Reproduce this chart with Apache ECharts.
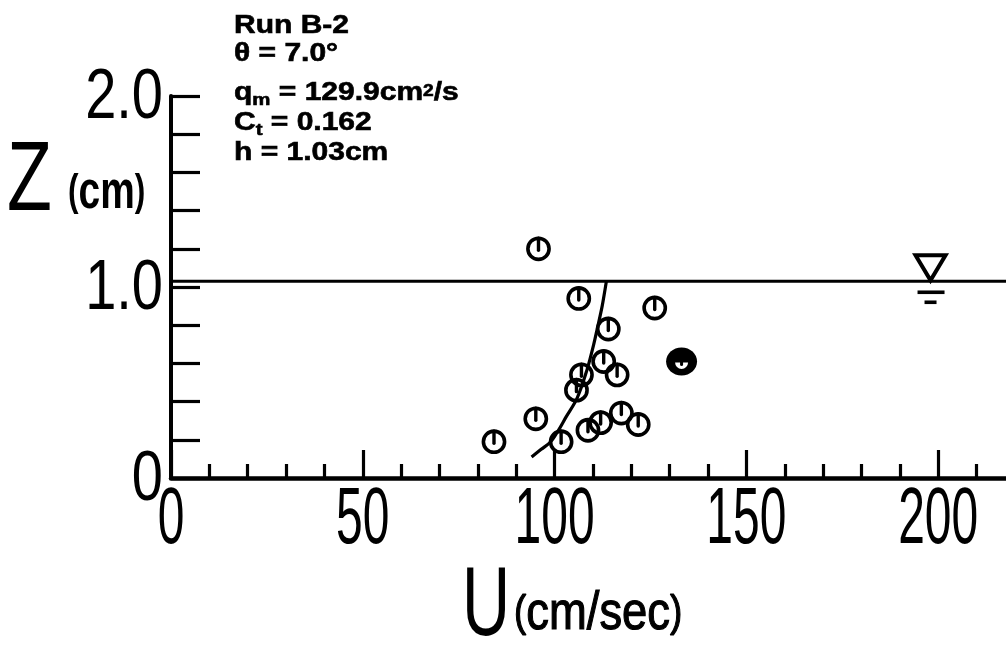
<!DOCTYPE html>
<html>
<head>
<meta charset="utf-8">
<script src="https://cdn.jsdelivr.net/npm/echarts@6/dist/echarts.min.js"></script>
<style>
  html, body { margin: 0; padding: 0; background: #ffffff; }
  #chart { width: 1006px; height: 651px; }
</style>
</head>
<body>
<div id="chart"></div>
<script>
// Run B-2: measured velocity U (cm/s) against height Z (cm)
const velocity = [95.8, 106.3, 126.1, 114.0, 112.8, 116.3, 107.0, 105.7, 95.1, 117.4, 112.0, 108.7, 121.8, 84.2, 101.7];
const height   = [1.20, 0.94, 0.89, 0.78, 0.61, 0.54, 0.54, 0.46, 0.31, 0.34, 0.29, 0.25, 0.28, 0.19, 0.19];

// the one solid marker
const solidVelocity = [133.1];
const solidHeight   = [0.61];

// fitted profile
const curveVelocity = [94.0, 96.5, 99.0, 101.0, 103.0, 105.9, 108.5, 110.2, 111.1, 112.4, 113.5];
const curveHeight   = [0.11, 0.15, 0.19, 0.25, 0.32, 0.42, 0.57, 0.70, 0.78, 0.90, 1.03];

// flow depth h and where the surface symbol sits
const flowDepth = 1.03;
const surfaceSymbolU = 198;

// tick labels
const xTickValues = [0, 50, 100, 150, 200];
const xTickLabels = ['0', '50', '100', '150', '200'];
const yTickValues = [0, 1.0, 2.0];
const yTickLabels = ['0', '1.0', '2.0'];

// run parameters (rich text)
const infoLines = [
  '{b|Run B-2}',
  '{b|θ = 7.0°}',
  '{b|q}{sub|m}{b| = 129.9cm}{sup|2}{b|/s}',
  '{b|C}{sub|t}{b| = 0.162}',
  '{b|h = 1.03cm}'
];

const X_MIN = 0, X_MAX = 250, Y_MIN = 0, Y_MAX = 2.0;

const chart = echarts.init(document.getElementById('chart'), null, { renderer: 'canvas' });

function renderRing(params, api) {
  const p = api.coord([api.value(0), api.value(1)]);
  const r = 10.6;
  return {
    type: 'group',
    children: [
      { type: 'circle', shape: { cx: p[0], cy: p[1], r: r },
        style: { fill: 'none', stroke: '#000', lineWidth: 3.6 } },
      { type: 'line', shape: { x1: p[0], y1: p[1] - r, x2: p[0], y2: p[1] + 1.5 },
        style: { stroke: '#000', lineWidth: 3.4, lineCap: 'round' } }
    ]
  };
}

function renderSolid(params, api) {
  const p = api.coord([api.value(0), api.value(1)]);
  return {
    type: 'group',
    children: [
      { type: 'ellipse', shape: { cx: p[0], cy: p[1], rx: 15.5, ry: 14 },
        style: { fill: '#000' } },
      { type: 'sector', shape: { cx: p[0], cy: p[1] + 1, r0: 0, r: 6.5, startAngle: 0, endAngle: Math.PI },
        style: { fill: '#fff' } },
      { type: 'line', shape: { x1: p[0], y1: p[1] - 4, x2: p[0], y2: p[1] + 3 },
        style: { stroke: '#000', lineWidth: 3, lineCap: 'round' } }
    ]
  };
}

function renderSurface(params, api) {
  const p = api.coord([api.value(0), api.value(1)]);
  const x = p[0], y = p[1];
  return {
    type: 'group',
    children: [
      { type: 'polygon', shape: { points: [[x - 15, y - 26], [x + 15, y - 26], [x, y - 1]] },
        style: { fill: 'none', stroke: '#000', lineWidth: 4, lineJoin: 'miter' } },
      { type: 'line', shape: { x1: x - 13, y1: y + 11, x2: x + 14, y2: y + 11 },
        style: { stroke: '#000', lineWidth: 3.6 } },
      { type: 'line', shape: { x1: x - 6, y1: y + 21, x2: x + 6, y2: y + 21 },
        style: { stroke: '#000', lineWidth: 3.6 } }
    ]
  };
}

chart.setOption({
  animation: false,
  backgroundColor: '#ffffff',
  grid: { left: 171, width: 959, top: 96, height: 382, containLabel: false, outerBoundsMode: 'none' },
  xAxis: {
    type: 'value', min: X_MIN, max: X_MAX, interval: 50,
    splitLine: { show: false },
    axisLine: { show: true, onZero: false, lineStyle: { color: '#000', width: 4.5 } },
    axisTick: { show: true, inside: true, length: 28, lineStyle: { color: '#000', width: 3.2 } },
    minorTick: { show: true, splitNumber: 5, length: 14, lineStyle: { color: '#000', width: 3.2 } },
    axisLabel: { show: false }
  },
  yAxis: {
    type: 'value', min: Y_MIN, max: Y_MAX, interval: 0.2,
    splitLine: { show: false },
    axisLine: { show: true, onZero: false, lineStyle: { color: '#000', width: 4 } },
    axisTick: { show: true, inside: true, length: 29, lineStyle: { color: '#000', width: 3.2 } },
    axisLabel: { show: false }
  },
  series: [
    {
      name: 'surface', type: 'line', silent: true, symbol: 'none',
      data: [[X_MIN, flowDepth], [X_MAX, flowDepth]],
      lineStyle: { color: '#000', width: 3 }
    },
    {
      name: 'profile', type: 'line', silent: true, symbol: 'none', smooth: 0.35,
      data: curveVelocity.map((u, i) => [u, curveHeight[i]]),
      lineStyle: { color: '#000', width: 3.2 }
    },
    {
      name: 'measured', type: 'custom', renderItem: renderRing,
      data: velocity.map((u, i) => [u, height[i]])
    },
    {
      name: 'measured (solid)', type: 'custom', renderItem: renderSolid,
      data: solidVelocity.map((u, i) => [u, solidHeight[i]])
    },
    {
      name: 'surface symbol', type: 'custom', renderItem: renderSurface,
      data: [[surfaceSymbolU, flowDepth]]
    }
  ]
});

// Tick labels and axis titles in a tall condensed face
const FACE = '"Liberation Sans", Arial, sans-serif';
const digitFont = { fontFamily: FACE, fontWeight: 'normal', fill: '#000' };
const graphics = [];

xTickValues.forEach((v, i) => {
  const px = chart.convertToPixel({ gridIndex: 0 }, [v, 0]);
  graphics.push({
    type: 'text', x: px[0], y: px[1] + 43, scaleX: 0.6, silent: true,
    style: Object.assign({ text: xTickLabels[i], fontSize: 80, align: 'center', verticalAlign: 'middle' }, digitFont)
  });
});

yTickValues.forEach((v, i) => {
  const px = chart.convertToPixel({ gridIndex: 0 }, [0, v]);
  graphics.push({
    type: 'text', x: px[0] - 8, y: px[1] + 3, scaleX: 0.8, silent: true,
    style: Object.assign({ text: yTickLabels[i], fontSize: 70, align: 'right', verticalAlign: 'middle' }, digitFont)
  });
});

// axis titles: a tall thin letter followed by the unit in parentheses
const unitRichBold = {
  p: { fontFamily: FACE, fontWeight: 'bold', fontSize: 44, fill: '#000' },
  u: { fontFamily: FACE, fontWeight: 'bold', fontSize: 54, fill: '#000' }
};
const unitRichPlain = {
  p: { fontFamily: FACE, fontWeight: 'normal', fontSize: 44, fill: '#000', stroke: '#000', lineWidth: 1.2 },
  u: { fontFamily: FACE, fontWeight: 'normal', fontSize: 54, fill: '#000', stroke: '#000', lineWidth: 1.2 }
};
graphics.push({
  type: 'text', x: 7, y: 183, scaleX: 0.75, silent: true,
  style: Object.assign({ text: 'Z', fontSize: 98, align: 'left', verticalAlign: 'middle' }, digitFont)
});
graphics.push({
  type: 'text', x: 68, y: 193, scaleX: 0.72, silent: true,
  style: { text: '{p|(}{u|cm}{p|)}', align: 'left', verticalAlign: 'middle', rich: unitRichBold }
});
graphics.push({
  type: 'text', x: 462, y: 608, scaleX: 0.68, silent: true,
  style: Object.assign({ text: 'U', fontSize: 98, align: 'left', verticalAlign: 'middle' }, digitFont)
});
graphics.push({
  type: 'text', x: 514, y: 614, scaleX: 0.84, silent: true,
  style: { text: '{p|(}{u|cm/sec}{p|)}', align: 'left', verticalAlign: 'middle', rich: unitRichPlain }
});

// run parameters block
const infoTops = [10, 38, 77, 107, 137];
const bodyStyle = { fontFamily: FACE, fontWeight: 'bold', fill: '#000', stroke: '#000', lineWidth: 0.6 };
infoLines.forEach((line, i) => {
  graphics.push({
    type: 'text', x: 234, y: infoTops[i], scaleX: 1.2, silent: true,
    style: {
      text: line, align: 'left', verticalAlign: 'top',
      rich: {
        b: Object.assign({ fontSize: 25, lineHeight: 32, verticalAlign: 'middle' }, bodyStyle),
        sub: Object.assign({ fontSize: 17, lineHeight: 17, verticalAlign: 'bottom' }, bodyStyle),
        sup: Object.assign({ fontSize: 16, lineHeight: 22, padding: [7, 0, 0, 0], verticalAlign: 'top' }, bodyStyle)
      }
    }
  });
});

chart.setOption({ graphic: graphics });
</script>
</body>
</html>
